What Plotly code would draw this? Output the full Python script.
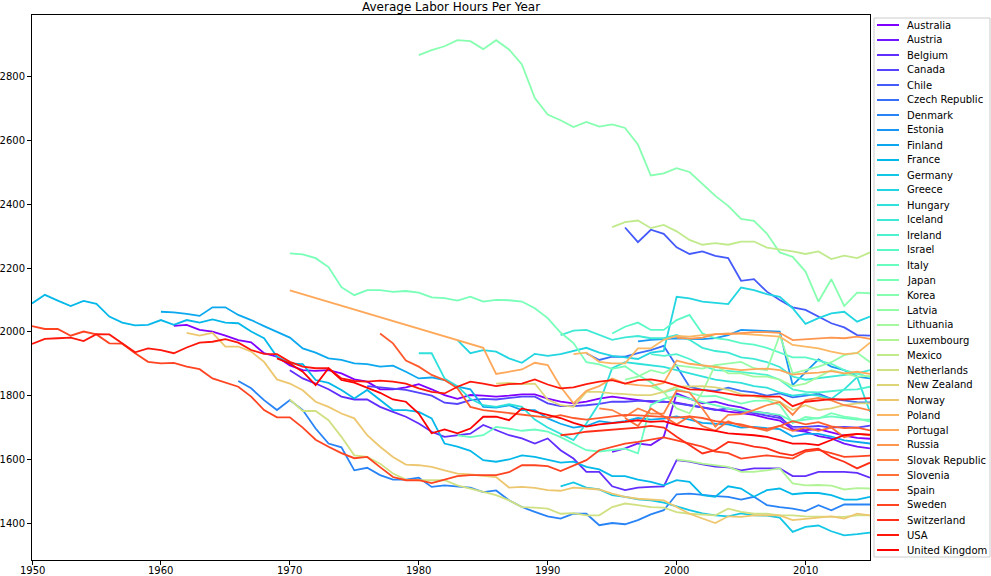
import math
import plotly.graph_objects as go

# ---------------- data (hours per year, consecutive years from *_start) ----------------
countries = ["Australia", "Austria", "Belgium", "Canada", "Chile", "Czech Republic", "Denmark",
             "Estonia", "Finland", "France", "Germany", "Greece", "Hungary", "Iceland", "Ireland",
             "Israel", "Italy", "Japan", "Korea", "Latvia", "Lithuania", "Luxembourg", "Mexico",
             "Netherlands", "New Zealand", "Norway", "Poland", "Portugal", "Russia",
             "Slovak Republic", "Slovenia", "Spain", "Sweden", "Switzerland", "USA", "United Kingdom"]

australia_start = 1961
australia = [2019, 2022, 2006, 2001, 1988, 1974, 1967, 1933, 1922,
             1895, 1880, 1878, 1880, 1870, 1851, 1844, 1820, 1820, 1826,
             1836, 1820, 1802, 1790, 1802, 1800, 1797, 1800, 1804, 1804,
             1791, 1781, 1776, 1781, 1791, 1797, 1791, 1786, 1781, 1781,
             1778, 1770, 1763, 1755, 1750, 1745, 1740, 1730, 1722, 1695,
             1692, 1695, 1685, 1675, 1668, 1665]
austria_start = 1995
austria = [1624, 1635, 1650, 1645, 1671, 1807, 1791, 1776, 1781, 1770, 1763,
           1750, 1745, 1736, 1692, 1687, 1673, 1666, 1650, 1640, 1635]
belgium_start = 1970
belgium = [1880, 1854, 1838, 1820, 1797, 1788, 1788, 1765, 1749, 1734,
           1713, 1687, 1671, 1676, 1681, 1708, 1692, 1676, 1666, 1650,
           1666, 1629, 1603, 1561, 1561, 1516, 1504, 1512, 1514, 1516,
           1598, 1593, 1585, 1578, 1575, 1566, 1572, 1572, 1572, 1548,
           1548, 1561, 1561, 1561, 1558, 1543]
canada_start = 1976
canada = [1830, 1825, 1822, 1818, 1810, 1800, 1778, 1774, 1786, 1790, 1788, 1792, 1797, 1797,
          1776, 1767, 1767, 1770, 1774, 1781, 1781, 1784, 1784, 1781,
          1776, 1770, 1763, 1755, 1760, 1750, 1745, 1738, 1730, 1702,
          1702, 1705, 1700, 1702, 1700, 1706]
chile_start = 1996
chile = [2327, 2281, 2320, 2307, 2265, 2244, 2252, 2238, 2231, 2160,
         2165, 2126, 2100, 2077, 2069, 2048, 2027, 2014, 1990, 1988]
czech_start = 1993
czech = [1933, 1912, 1922, 1922, 1933, 1943, 1956, 1891, 1828, 1818, 1815, 1825,
         1815, 1810, 1800, 1807, 1795, 1800, 1806, 1790, 1785, 1780, 1779]
denmark_start = 1966
denmark = [1846, 1823, 1786, 1755, 1786, 1755, 1697, 1650, 1638, 1566,
           1574, 1551, 1537, 1537, 1543, 1514, 1519, 1516, 1512, 1498,
           1503, 1472, 1451, 1436, 1422, 1415, 1430, 1430, 1394, 1401,
           1397, 1410, 1428, 1441, 1491, 1493, 1488, 1485, 1483, 1474,
           1483, 1457, 1451, 1446, 1438, 1457, 1441, 1459, 1459, 1459]
estonia_start = 1997
estonia = [1970, 1975, 1977, 1980, 1978, 1977, 1980, 1990, 2006, 2005,
           2003, 2001, 1833, 1875, 1914, 1891, 1880, 1860, 1854]
finland_start = 1960
finland = [2063, 2061, 2056, 2050, 2077, 2077, 2053, 2037, 2018, 2001,
           1982, 1948, 1935, 1917, 1912, 1901, 1899, 1891, 1894, 1875,
           1854, 1857, 1849, 1828, 1820, 1765, 1763, 1770, 1755, 1755,
           1729, 1712, 1700, 1705, 1720, 1715, 1720, 1730, 1725, 1728,
           1735, 1725, 1715, 1712, 1710, 1700, 1702, 1698, 1695, 1672,
           1680, 1680, 1672, 1660, 1655, 1650]
france_start = 1950
france = [2089, 2116, 2098, 2081, 2097, 2088, 2048, 2029, 2020, 2022,
          2037, 2022, 2037, 2029, 2039, 2029, 2027, 2001, 1980, 1922,
          1901, 1899, 1849, 1840, 1818, 1791, 1818, 1786, 1755, 1755,
          1749, 1729, 1650, 1640, 1627, 1598, 1593, 1600, 1613, 1608,
          1600, 1590, 1593, 1577, 1569, 1548, 1548, 1537, 1530, 1519,
          1535, 1530, 1488, 1483, 1516, 1509, 1483, 1504, 1509, 1491,
          1495, 1495, 1488, 1474, 1474, 1483]
germany_start = 1991
germany = [1516, 1528, 1512, 1506, 1488, 1483, 1475, 1472, 1465,
           1452, 1441, 1431, 1425, 1422, 1431, 1425, 1424, 1418, 1373,
           1389, 1393, 1375, 1362, 1366, 1371]
greece_start = 1983
greece = [1974, 1933, 1943, 1938, 1917, 1903, 1931,
          1925, 1930, 1940, 1950, 1935, 1925, 1920, 1915, 1935, 1940,
          2110, 2105, 2095, 2090, 2087, 2139, 2131, 2118, 2110, 2074,
          2025, 2043, 2058, 2063, 2032, 2048]
hungary_start = 1980
hungary = [1933, 1933, 1854, 1830, 1790, 1770, 1765, 1773, 1765, 1725,
           1700, 1680, 1661, 1713, 1776, 1886, 1905, 1900, 1895, 1890,
           1880, 1870, 1860, 1850, 1845, 1840, 1830, 1825, 1810, 1800,
           1805, 1800, 1790, 1820, 1858, 1749]
iceland_start = 1991
iceland = [1990, 2004, 2006, 1990, 1975, 1983, 1987, 1980, 1980,
           1990, 1975, 1950, 1940, 1935, 1920, 1915, 1905, 1890, 1860,
           1850, 1855, 1860, 1865, 1870, 1880]
ireland_start = 1998
ireland = [1930, 1925, 1930, 1915, 1895, 1880, 1878, 1875, 1870, 1865, 1850, 1820,
           1812, 1810, 1815, 1818, 1820, 1828]
israel_start = 1995
israel = [1995, 2016, 2029, 2006, 2006, 2037, 2053, 1995, 1980, 1975, 1965,
          1960, 1950, 1935, 1920, 1920, 1910, 1900, 1880, 1870, 1858]
italy_start = 1983
italy = [1676, 1670, 1676, 1702, 1697, 1690, 1694,
         1687, 1670, 1650, 1629, 1625, 1630, 1634, 1619, 1771, 1790,
         1800, 1790, 1780, 1770, 1760, 1755, 1750, 1745, 1740, 1720,
         1725, 1730, 1735, 1730, 1725, 1725]
japan_start = 1970
japan = [2246, 2243, 2231, 2203, 2140, 2115, 2131, 2131, 2125, 2128,
         2123, 2108, 2106, 2098, 2110, 2095, 2100, 2099, 2095, 2074,
         2043, 1998, 1965, 1905, 1898, 1884, 1892, 1865, 1842, 1810,
         1821, 1809, 1798, 1799, 1787, 1775, 1784, 1785, 1771, 1714,
         1733, 1728, 1745, 1734, 1729, 1719]
korea_start = 1980
korea = [2867, 2883, 2895, 2914, 2911, 2886, 2914, 2885, 2838, 2733,
         2681, 2663, 2642, 2658, 2643, 2650, 2639, 2587, 2490, 2497,
         2513, 2501, 2464, 2426, 2395, 2354, 2348, 2308, 2249, 2235,
         2189, 2095, 2165, 2081, 2123, 2121]
latvia_start = 1996
latvia = [1850, 1860, 1880, 1870, 1895, 1890, 1885, 1896, 1901, 1906,
          1886, 1880, 1990, 1870, 1880, 1891, 1905, 1927, 1935, 1905]
lithuania_start = 1998
lithuania = [1830, 1812, 1760, 1745, 1812, 1896, 1870, 1870, 1860, 1860,
             1850, 1830, 1838, 1860, 1880, 1870, 1860, 1862]
luxembourg_start = 2000
luxembourg = [1600, 1595, 1587, 1582, 1577, 1561, 1561, 1566, 1572, 1525,
              1519, 1520, 1518, 1506, 1510, 1509]
mexico_start = 1995
mexico = [2328, 2344, 2349, 2325, 2335, 2315, 2288, 2273, 2278, 2273, 2283,
          2283, 2264, 2259, 2252, 2244, 2252, 2228, 2239, 2231, 2249]
netherlands_start = 1970
netherlands = [1788, 1752, 1752, 1723, 1671, 1613, 1608, 1587, 1556, 1537,
               1535, 1535, 1535, 1519, 1509, 1498, 1488, 1472, 1451, 1449,
               1446, 1430, 1432, 1425, 1425, 1451, 1462, 1457, 1451, 1449,
               1435, 1430, 1428, 1425, 1446, 1436, 1430, 1430, 1425, 1425,
               1422, 1422, 1422, 1420, 1425, 1425]
new_zealand_start = 1986
new_zealand = [1838, 1840, 1836, 1838,
               1788, 1770, 1765, 1812, 1812, 1807, 1805, 1802, 1802, 1812,
               1828, 1828, 1830, 1826, 1818, 1805, 1798, 1791, 1781, 1755,
               1770, 1755, 1760, 1770, 1776, 1776]
norway_start = 1962
norway = [1997, 1988, 1997, 1954, 1954, 1938, 1906, 1851,
          1838, 1817, 1781, 1765, 1744, 1729, 1676, 1640, 1608, 1584,
          1582, 1577, 1566, 1556, 1553, 1548, 1545, 1512, 1514, 1511,
          1504, 1502, 1512, 1509, 1506, 1493, 1483, 1477, 1474, 1472,
          1451, 1430, 1415, 1401, 1422, 1420, 1425, 1425, 1425, 1410,
          1415, 1418, 1422, 1415, 1430, 1425]
poland_start = 1992
poland = [1930, 1935, 1906, 1901, 1901, 1948, 1948, 1975, 1987, 1985, 1990, 1992,
          1995, 1994, 1990, 1988, 1985, 1959, 1954, 1948, 1938, 1930, 1933, 1966]
portugal_years = [1970, 1985] + list(range(1986, 2016))
portugal = [2130, 1950,
            1868, 1875, 1882, 1903,
            1896, 1828, 1776, 1815, 1830, 1854, 1838, 1833, 1830, 1840,
            1910, 1900, 1895, 1890, 1885, 1880, 1883, 1885, 1880, 1866,
            1870, 1872, 1877, 1870, 1875, 1868]
russia_start = 2000
russia = [1982, 1979, 1982, 1993, 1993, 1997, 1999, 1999, 1997, 1974,
          1976, 1979, 1982, 1980, 1985, 1978]
slovak_start = 1994
slovak = [1760, 1755, 1734, 1760, 1744, 1744, 1816, 1810, 1760, 1703, 1740,
          1742, 1755, 1770, 1780, 1740, 1786, 1793, 1785, 1770, 1763, 1754]
slovenia_start = 1996
slovenia = [1730, 1705, 1760, 1735, 1710, 1735, 1705, 1690, 1720, 1705,
            1700, 1690, 1705, 1690, 1700, 1690, 1700, 1670, 1680, 1676]
spain_start = 1977
spain = [1995, 1964, 1910, 1891, 1865, 1849, 1823, 1765, 1755, 1750, 1746, 1739, 1734, 1731,
         1739, 1730, 1725, 1730, 1735, 1740, 1738, 1735, 1732,
         1731, 1735, 1730, 1720, 1715, 1710, 1700, 1695, 1705, 1720,
         1710, 1717, 1704, 1698, 1700, 1691]
sweden_start = 1950
sweden = [2018, 2009, 2009, 1988, 2001, 1992, 1964, 1963, 1933, 1906,
          1901, 1903, 1891, 1883, 1854, 1842, 1828, 1797, 1755, 1732,
          1732, 1700, 1662, 1640, 1620, 1604, 1608, 1576, 1545, 1535,
          1535, 1526, 1538, 1548, 1551, 1551, 1551, 1560, 1582, 1582,
          1579, 1564, 1580, 1598, 1629, 1640, 1650, 1655, 1661, 1669,
          1660, 1650, 1640, 1625, 1620, 1603, 1608, 1613, 1608, 1603,
          1625, 1630, 1620, 1608, 1610, 1612]
switzerland_start = 1991
switzerland = [1676, 1680, 1687, 1690, 1692, 1695, 1700, 1705, 1700,
               1671, 1645, 1619, 1629, 1655, 1650, 1640, 1635, 1620, 1613,
               1629, 1634, 1608, 1593, 1572, 1590]
usa_start = 1950
usa = [1962, 1978, 1980, 1982, 1971, 1993, 1992, 1964, 1936, 1948,
       1943, 1933, 1951, 1966, 1969, 1977, 1966, 1943, 1931, 1930,
       1906, 1891, 1886, 1886, 1854, 1846, 1844, 1847, 1844, 1838,
       1823, 1812, 1807, 1828, 1844, 1838, 1830, 1836, 1838, 1851,
       1835, 1823, 1826, 1836, 1844, 1849, 1838, 1849, 1851, 1844,
       1833, 1820, 1818, 1812, 1805, 1800, 1800, 1797, 1797, 1767,
       1781, 1786, 1789, 1788, 1790, 1792]
uk_start = 1969
uk = [1917,
      1901, 1875, 1833, 1886, 1849, 1841, 1826, 1809, 1788, 1781,
      1744, 1682, 1694, 1682, 1697, 1734, 1734, 1723, 1760, 1750,
      1739, 1730, 1715, 1703, 1710, 1713, 1718, 1723, 1718, 1720,
      1708, 1700, 1695, 1690, 1682, 1680, 1676, 1671, 1661, 1650,
      1650, 1645, 1661, 1676, 1680, 1678]

x_ticks = [1950, 1960, 1970, 1980, 1990, 2000, 2010]
y_ticks = [1400, 1600, 1800, 2000, 2200, 2400, 2600, 2800]
title_text = "Average Labor Hours Per Year"


def consecutive(start, values):
    return list(range(start, start + len(values))), values


series = [
    consecutive(australia_start, australia),
    consecutive(austria_start, austria),
    consecutive(belgium_start, belgium),
    consecutive(canada_start, canada),
    consecutive(chile_start, chile),
    consecutive(czech_start, czech),
    consecutive(denmark_start, denmark),
    consecutive(estonia_start, estonia),
    consecutive(finland_start, finland),
    consecutive(france_start, france),
    consecutive(germany_start, germany),
    consecutive(greece_start, greece),
    consecutive(hungary_start, hungary),
    consecutive(iceland_start, iceland),
    consecutive(ireland_start, ireland),
    consecutive(israel_start, israel),
    consecutive(italy_start, italy),
    consecutive(japan_start, japan),
    consecutive(korea_start, korea),
    consecutive(latvia_start, latvia),
    consecutive(lithuania_start, lithuania),
    consecutive(luxembourg_start, luxembourg),
    consecutive(mexico_start, mexico),
    consecutive(netherlands_start, netherlands),
    consecutive(new_zealand_start, new_zealand),
    consecutive(norway_start, norway),
    consecutive(poland_start, poland),
    (portugal_years, portugal),
    consecutive(russia_start, russia),
    consecutive(slovak_start, slovak),
    consecutive(slovenia_start, slovenia),
    consecutive(spain_start, spain),
    consecutive(sweden_start, sweden),
    consecutive(switzerland_start, switzerland),
    consecutive(usa_start, usa),
    consecutive(uk_start, uk),
]


def rainbow(t):
    r = min(1.0, abs(2 * t - 0.5))
    g = max(0.0, min(1.0, math.sin(math.pi * t)))
    b = max(0.0, min(1.0, math.cos(math.pi * t / 2)))
    return "rgb(%d,%d,%d)" % (round(r * 255), round(g * 255), round(b * 255))


n = len(countries)
colors = [rainbow(i / (n - 1)) for i in range(n)]

fig = go.Figure()
for name, (xs, ys), col in zip(countries, series, colors):
    fig.add_trace(go.Scatter(x=xs, y=ys, mode="lines", name=name,
                             line=dict(color=col, width=1.8), showlegend=False))

# ---- geometry (pixels) ----
W, H = 991, 576
L, R, T, B = 32, 121, 15, 16
pw, ph = W - L - R, H - T - B


def px_x(px):
    return (px - L) / pw


def px_y(py):
    return (H - B - py) / ph


font_family = "DejaVu Sans"
shapes = []
annotations = []

# legend frame
shapes.append(dict(type="rect", xref="paper", yref="paper",
                   x0=px_x(874), x1=px_x(990), y0=px_y(557), y1=px_y(18),
                   line=dict(color="#cccccc", width=1), fillcolor="white", layer="below"))
for i, (name, col) in enumerate(zip(countries, colors)):
    yy = 25 + 15 * i
    shapes.append(dict(type="line", xref="paper", yref="paper",
                       x0=px_x(877), x1=px_x(899), y0=px_y(yy), y1=px_y(yy),
                       line=dict(color=col, width=2)))
    annotations.append(dict(xref="paper", yref="paper", x=px_x(905), y=px_y(yy),
                            text=name, showarrow=False, xanchor="left", yanchor="middle",
                            font=dict(family=font_family, size=10, color="black")))

# x tick labels (placed just under the axis like the reference)
for v in x_ticks:
    annotations.append(dict(xref="x", yref="paper", x=v, y=px_y(570.5),
                            text=str(v), showarrow=False, xanchor="center", yanchor="middle",
                            borderpad=0,
                            font=dict(family=font_family, size=10, color="black")))

annotations.append(dict(xref="paper", yref="paper", x=0.5, y=px_y(7),
                        text=title_text, showarrow=False, xanchor="center", yanchor="middle",
                        font=dict(family=font_family, size=12, color="black")))

fig.update_layout(
    width=W, height=H,
    margin=dict(l=L, r=R, t=T, b=B, pad=0),
    paper_bgcolor="white", plot_bgcolor="white",
    showlegend=False,
    shapes=shapes, annotations=annotations,
    font=dict(family=font_family, size=10, color="black"),
    xaxis=dict(range=[1950, 2015], tickvals=x_ticks, showticklabels=False,
               showgrid=False, zeroline=False, showline=True, mirror=True,
               linecolor="black", linewidth=1, ticks="outside", ticklen=4,
               tickcolor="black", automargin=False),
    yaxis=dict(range=[1285, 2993], tickvals=y_ticks, ticktext=[str(v) for v in y_ticks],
               showgrid=False, zeroline=False, showline=True, mirror=True,
               linecolor="black", linewidth=1, ticks="outside", ticklen=4,
               tickcolor="black", automargin=False,
               tickfont=dict(family=font_family, size=10, color="black")),
)

fig.write_html("out.html",
               config={"displayModeBar": False},
               post_script="document.body.style.margin='0';document.body.style.overflow='hidden';")
